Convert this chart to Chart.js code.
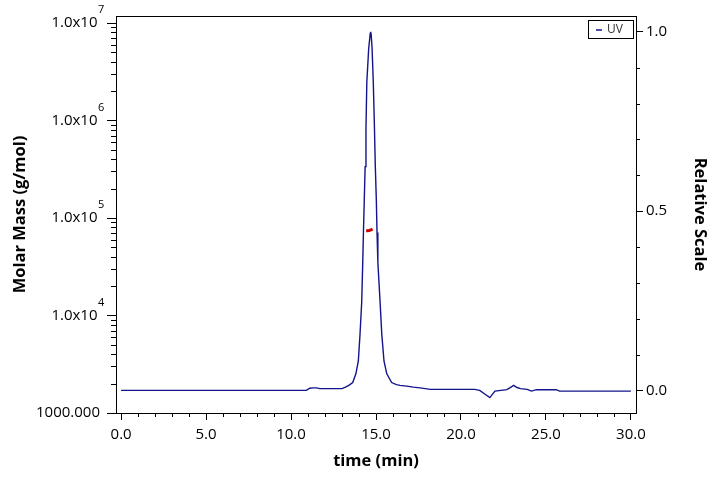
<!DOCTYPE html>
<html><head><meta charset="utf-8">
<script src="https://cdn.jsdelivr.net/npm/chart.js@4/dist/chart.umd.min.js"></script>
<style>html,body{margin:0;padding:0;background:#fff}#wrap{width:720px;height:479px}</style>
</head><body><div id="wrap"><canvas id="c" width="720" height="479"></canvas></div>
<script>
// ---- data ----
const timeMin = [0.0, 10.9, 11.1, 11.3, 11.5, 11.7, 13.0, 13.2, 13.4, 13.63, 13.82, 13.96, 14.06, 14.16, 14.22, 14.26, 14.31, 14.36, 14.41, 14.46, 14.57, 14.66, 14.69, 14.72, 14.77, 14.84, 14.9, 14.96, 15.02, 15.06, 15.11, 15.24, 15.34, 15.47, 15.63, 15.92, 16.2, 16.41, 16.8, 17.2, 17.6, 18.2, 20.8, 21.1, 21.4, 21.7, 22.0, 22.7, 22.9, 23.1, 23.3, 23.5, 23.9, 24.15, 24.45, 25.6, 25.8, 30.0];
const uvRelative = [0.000, 0.000, 0.006, 0.007, 0.007, 0.005, 0.005, 0.009, 0.014, 0.022, 0.047, 0.082, 0.157, 0.247, 0.357, 0.44, 0.53, 0.624, 0.73, 0.86, 0.953, 0.995, 1.0, 0.99, 0.953, 0.86, 0.75, 0.624, 0.53, 0.44, 0.357, 0.247, 0.157, 0.082, 0.047, 0.022, 0.016, 0.014, 0.012, 0.009, 0.007, 0.003, 0.003, 0.000, -0.010, -0.020, -0.002, 0.002, 0.008, 0.014, 0.008, 0.005, 0.003, -0.002, 0.002, 0.002, -0.002, -0.002];
const mmTime = [14.42, 14.5, 14.6, 14.7, 14.8];
const molarMass = [74000, 74200, 74500, 75500, 77000];
const xTickLabels = ['0.0', '5.0', '10.0', '15.0', '20.0', '25.0', '30.0'];
const leftDecades = [1000, 10000, 100000, 1000000, 10000000];
const leftTickLabels = ['1000.000', '1.0x10', '1.0x10', '1.0x10', '1.0x10'];
const leftExponents = ['', '4', '5', '6', '7'];
const rightTickLabels = ['0.0', '0.5', '1.0'];
const rightTickValues = [0, 0.5, 1.0];
const seriesNames = ['UV', 'Molar Mass'];

const FONT = "'Open Sans', 'Noto Sans', sans-serif";
const UV_COLOR = 'rgb(20,20,140)';
const uvPts = timeMin.map((t, i) => ({x: t, y: uvRelative[i]}));
const mmPts = mmTime.map((t, i) => ({x: t, y: molarMass[i]}));

function isDecade(v) { return leftDecades.some(d => Math.abs(v - d) / d < 1e-6); }
function isX5(v) { return Math.abs(v / 5 - Math.round(v / 5)) < 1e-6; }
function isR5(v) { return Math.abs(v / 0.5 - Math.round(v / 0.5)) < 1e-6; }

const extras = {
  id: 'extras',
  afterDraw(chart) {
    const ctx = chart.ctx;
    ctx.save();
    ctx.strokeStyle = '#000';
    ctx.lineWidth = 1;
    const ca = chart.chartArea;
    const xs = chart.scales.x;
    xs.ticks.forEach(t => {
      if (!isX5(t.value)) {
        const px = Math.round(xs.getPixelForValue(t.value)) + 0.5;
        ctx.beginPath(); ctx.moveTo(px, ca.bottom); ctx.lineTo(px, ca.bottom + 4); ctx.stroke();
      }
    });
    const ys = chart.scales.y;
    ys.ticks.forEach(t => {
      if (!isDecade(t.value)) {
        const py = Math.round(ys.getPixelForValue(t.value)) + 0.5;
        ctx.beginPath(); ctx.moveTo(ca.left - 5, py); ctx.lineTo(ca.left, py); ctx.stroke();
      }
    });
    const rs = chart.scales.y2;
    rs.ticks.forEach(t => {
      if (!isR5(t.value)) {
        const py = Math.round(rs.getPixelForValue(t.value)) + 0.5;
        ctx.beginPath(); ctx.moveTo(ca.right, py); ctx.lineTo(ca.right + 4, py); ctx.stroke();
      }
    });
    // top frame
    ctx.beginPath(); ctx.moveTo(ca.left, Math.round(ca.top) + 0.5); ctx.lineTo(ca.right, Math.round(ca.top) + 0.5); ctx.stroke();
    // exponents
    ctx.fillStyle = '#000';
    ctx.font = '11px ' + FONT;
    ctx.textAlign = 'left';
    ctx.textBaseline = 'middle';
    const labelRight = ca.left - 9 - 7;
    leftDecades.forEach((d, i) => {
      if (!leftExponents[i]) return;
      const py = ys.getPixelForValue(d);
      ctx.fillText(leftExponents[i], labelRight - 2, py - 13);
    });
    // legend
    const bx = Math.round(ca.right) - 48;
    const by = Math.round(ca.top) + 4;
    ctx.strokeStyle = '#000';
    ctx.strokeRect(bx + 0.5, by + 0.5, 45, 18);
    ctx.strokeStyle = UV_COLOR;
    ctx.lineWidth = 1.5;
    ctx.beginPath(); ctx.moveTo(bx + 8, by + 10); ctx.lineTo(bx + 14, by + 10); ctx.stroke();
    ctx.fillStyle = '#333';
    ctx.font = '12px ' + FONT;
    ctx.fillText(seriesNames[0], bx + 19, by + 10);
    ctx.restore();
  }
};

new Chart(document.getElementById('c'), {
  type: 'line',
  data: {
    datasets: [
      {label: seriesNames[0], data: uvPts, yAxisID: 'y2', borderColor: UV_COLOR, backgroundColor: UV_COLOR, borderWidth: 1.4, pointRadius: 0, tension: 0, order: 2},
      {label: seriesNames[1], data: mmPts, yAxisID: 'y', borderColor: '#d00000', backgroundColor: '#d00000', borderWidth: 3, pointRadius: 0, tension: 0, order: 1}
    ]
  },
  options: {
    responsive: false,
    devicePixelRatio: 1,
    animation: false,
    layout: {padding: {top: 10, left: 0, right: 0, bottom: 0}},
    plugins: {
      tooltip: {enabled: false},
      legend: {display: false}
    },
    scales: {
      x: {
        type: 'linear', position: 'bottom', min: -0.3, max: 30.3,
        afterFit: s => { s.height = 66; },
        ticks: {
          stepSize: 1, includeBounds: false, autoSkip: false, maxRotation: 0, padding: 6,
          color: '#000', font: {family: FONT, size: 15},
          callback: v => { const i = Math.round(v / 5); return isX5(v) && i >= 0 && i < xTickLabels.length ? xTickLabels[i] : ''; }
        },
        grid: {drawOnChartArea: false, tickLength: 7, tickColor: c => isX5(c.tick.value) ? '#000' : 'rgba(0,0,0,0)'},
        border: {display: true, color: '#000', width: 1},
        title: {display: true, text: 'time (min)', color: '#000', font: {family: FONT, size: 16.5, weight: 'bold'}, padding: {top: 0, bottom: 8}}
      },
      y: {
        type: 'logarithmic', position: 'left', min: 1000, max: 1.18e7,
        afterFit: s => { s.width = 116; },
        afterBuildTicks: s => {
          const t = [];
          for (let k = 0; k < leftDecades.length; k++) {
            const d = leftDecades[k];
            t.push({value: d});
            if (k < leftDecades.length - 1) for (let m = 2; m <= 9; m++) t.push({value: d * m});
          }
          s.ticks = t;
        },
        ticks: {
          autoSkip: false, padding: 7, color: '#000', font: {family: FONT, size: 15},
          callback: v => { const i = leftDecades.findIndex(d => Math.abs(v - d) / d < 1e-6); return i < 0 ? '' : (i === 0 ? leftTickLabels[0] : leftTickLabels[i] + '\u2009'); }
        },
        grid: {drawOnChartArea: false, tickLength: 9, tickColor: c => isDecade(c.tick.value) ? '#000' : 'rgba(0,0,0,0)'},
        border: {display: true, color: '#000', width: 1},
        title: {display: true, text: 'Molar Mass (g/mol)', color: '#000', font: {family: FONT, size: 16.5, weight: 'bold'}, padding: {top: 10, bottom: 0}}
      },
      y2: {
        type: 'linear', position: 'right', min: -0.063, max: 1.044,
        afterFit: s => { s.width = 84; },
        ticks: {
          stepSize: 0.1, includeBounds: false, autoSkip: false, padding: 3, color: '#000', font: {family: FONT, size: 15},
          callback: v => { const i = rightTickValues.findIndex(r => Math.abs(v - r) < 1e-6); return i < 0 ? '' : rightTickLabels[i]; }
        },
        grid: {drawOnChartArea: false, tickLength: 7, tickColor: c => isR5(c.tick.value) ? '#000' : 'rgba(0,0,0,0)'},
        border: {display: true, color: '#000', width: 1},
        title: {display: true, text: 'Relative Scale', color: '#000', font: {family: FONT, size: 16.5, weight: 'bold'}, padding: {top: 10, bottom: 0}}
      }
    }
  },
  plugins: [extras]
});
</script></body></html>
